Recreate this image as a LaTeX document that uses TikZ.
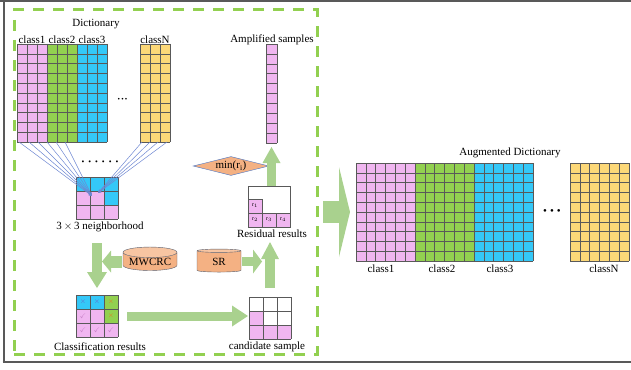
\documentclass[tikz,border=0pt]{standalone}
\usepackage{amssymb}
\usepackage{fontspec}
\setmainfont{Liberation Serif}
\usetikzlibrary{arrows.meta,shapes.geometric,calc}

\definecolor{pinkc}{RGB}{240,182,240}
\definecolor{greenc}{RGB}{146,208,80}
\definecolor{cyanc}{RGB}{52,200,248}
\definecolor{yellowc}{RGB}{252,216,120}
\definecolor{orangec}{RGB}{244,177,131}
\definecolor{arrowg}{RGB}{169,209,142}
\definecolor{dashg}{RGB}{146,208,80}
\definecolor{fanc}{RGB}{110,135,210}
\definecolor{cyledge}{RGB}{90,95,110}
\definecolor{crossb}{RGB}{100,100,200}
\definecolor{crosso}{RGB}{230,120,30}
\definecolor{tickp}{RGB}{200,130,200}

\tikzset{
  every node/.style={font=\fontsize{11}{13}\selectfont},
  lbl/.style={inner sep=1pt},
  area/.style={inner sep=0pt, outer sep=0pt},
  gridline/.style={draw=black!65, line width=0.5pt},
  framel/.style={draw=black!65, line width=2pt},
  fanline/.style={draw=fanc, line width=0.5pt, -{Stealth[length=3.5pt,width=3pt]}},
  fatarrow/.style={draw=arrowg, line cap=butt},
  cyl/.style={cylinder, shape border rotate=90, aspect=0.25, draw=cyledge,
    cylinder uses custom fill, cylinder body fill=orangec,
    cylinder end fill=orangec!75!white, minimum width=#1, minimum height=23pt,
    inner sep=0pt},
  minbox/.style={diamond, aspect=4, draw={rgb,255:red,68;green,114;blue,196},
    fill=orangec, inner sep=0.5pt, minimum width=68pt, minimum height=16pt},
  rlabel/.style={font=\fontsize{6}{6}\selectfont, inner sep=0pt},
  sym/.style={font=\fontsize{7}{7}\selectfont, inner sep=0pt, text=#1}
}

% block of equal cells: x, y, columns, rows, cell width, cell height, colour
\newcommand{\cellblock}[7]{%
  \fill[#7] (#1,#2) rectangle ++({#3*#5},{#4*#6});
  \foreach \cc in {0,...,#3} \draw[gridline] ({#1+\cc*#5},#2) -- ++(0,{#4*#6});
  \foreach \rr in {0,...,#4} \draw[gridline] (#1,{#2+\rr*#6}) -- ++({#3*#5},0);
}
% 3x3 patch, colours row by row
\newcommand{\patch}[3]{%
  \foreach \col [count=\k from 0] in {#3} {
    \pgfmathsetmacro\px{mod(\k,3)}
    \pgfmathsetmacro\py{floor(\k/3)}
    \fill[\col] ({#1+\px*14},{#2+\py*14}) rectangle ++(14,14);
  }
  \foreach \cc in {0,...,3} \draw[gridline] ({#1+\cc*14},#2) -- ++(0,42);
  \foreach \rr in {0,...,3} \draw[gridline] (#1,{#2+\rr*14}) -- ++(42,0);
}

\begin{document}
\begin{tikzpicture}[x=1pt,y=-1pt]
\useasboundingbox (0,0) rectangle (631,369);

% frame
\draw[framel] (0,1.5) -- (631,1.5);
\draw[framel] (3.5,0.5) -- (3.5,362);
\draw[framel] (2.5,362) -- (631,362);

% dashed stage box
\node[area, draw=dashg, line width=3pt, dash pattern=on 11pt off 9pt,
  minimum width=303pt, minimum height=344pt] (stage) at (165.5,182) {};

% dictionary
\cellblock{17}{44}{3}{10}{10}{9.8}{pinkc}
\cellblock{47}{44}{3}{10}{10}{9.8}{greenc}
\cellblock{77}{44}{3}{10}{10}{9.8}{cyanc}
\cellblock{140}{44}{3}{10}{10}{9.8}{yellowc}
\node[area, minimum width=153pt, minimum height=98pt] (dict) at (93.5,93) {};
\node[lbl] (dicttxt) at (96,24) {Dictionary};
\node[lbl] (d1) at (32,40) {class1};
\node[lbl] (d2) at (62,40) {class2};
\node[lbl] (d3) at (92,40) {class3};
\node[lbl] (dN) at (155,40) {classN};
\node[lbl, font=\fontsize{7}{7}\selectfont] (ddots) at (122.5,100)
  {\textbullet\hspace{1.2pt}\textbullet\hspace{1.2pt}\textbullet};

% neighbourhood patch
\patch{76}{177}{cyanc,cyanc,cyanc,pinkc,pinkc,cyanc,pinkc,pinkc,pinkc}
\node[area, minimum width=42pt, minimum height=42pt] (nbh) at (97,198) {};
\node[lbl] (nbhtxt) at (100,227) {3\,$\times$\,3 neighborhood};
\node[lbl, font=\fontsize{8}{8}\selectfont] (ndots) at (100,163)
  {\textbullet\hspace{4pt}\textbullet\hspace{4pt}\textbullet\hspace{4pt}\textbullet\hspace{4pt}\textbullet\hspace{4pt}\textbullet};
\coordinate (hitA) at (92,196);
\coordinate (hitB) at (98,193);
\foreach \x in {2,12,21,30,39,48}
  \draw[fanline] ([xshift=\x pt]dict.south west) -- (hitA);
\foreach \x in {125,133,141,150}
  \draw[fanline] ([xshift=\x pt]dict.south west) -- (hitB);

% classification results
\patch{76}{295}{cyanc,cyanc,greenc,pinkc,pinkc,greenc,pinkc,pinkc,pinkc}
\node[area, minimum width=42pt, minimum height=42pt] (cls) at (97,316) {};
\node[lbl] (clstxt) at (100,347) {Classification results};
\node[sym=crossb] at (83,302) {$\times$};
\node[sym=crossb] at (97,302) {$\times$};
\node[sym=crosso] at (111,302) {$\times$};
\node[sym=crosso] at (111,316) {$\times$};
\node[sym=tickp] at (83,316) {$\checkmark$};
\node[sym=tickp] at (83,330) {$\checkmark$};
\node[sym=tickp] at (97,330) {$\checkmark$};
\node[sym=tickp] at (111,330) {$\checkmark$};

% candidate sample
\patch{249}{297}{white,white,white,pinkc,white,white,pinkc,pinkc,pinkc}
\node[area, minimum width=42pt, minimum height=42pt] (cand) at (270,318) {};
\node[lbl] (candtxt) at (267,347) {candidate sample};

% residual results
\fill[pinkc] (248,199) rectangle (262,227);
\fill[pinkc] (262,213) rectangle (290,227);
\draw[gridline] (248,186) rectangle (290,227);
\draw[gridline] (248,199) -- (262,199) -- (262,227);
\draw[gridline] (248,213) -- (290,213);
\draw[gridline] (276,213) -- (276,227);
\node[area, minimum width=42pt, minimum height=41pt] (resid) at (269,206.5) {};
\node[rlabel] at (255,206) {r$_1$};
\node[rlabel] at (255,220) {r$_2$};
\node[rlabel] at (269,220) {r$_3$};
\node[rlabel] at (283,220) {r$_4$};
\node[lbl] (residtxt) at (272,234) {Residual results};

% amplified samples
\cellblock{266}{44}{1}{10}{11}{9.9}{pinkc}
\node[area, minimum width=11pt, minimum height=99pt] (ampl) at (271.5,93.5) {};
\node[lbl] (ampltxt) at (272,40) {Amplified samples};

\node[minbox] (minr) at (231,166) {min(r$_\mathrm{i}$)};
\node[cyl=54pt] (mwcrc) at (150,261.5) {MWCRC};
\node[cyl=44pt] (sr) at (219,261.5) {SR};

% augmented dictionary
\cellblock{356}{163}{6}{10}{9.83}{9.8}{pinkc}
\cellblock{415}{163}{6}{10}{9.83}{9.8}{greenc}
\cellblock{474}{163}{6}{10}{9.83}{9.8}{cyanc}
\cellblock{570}{163}{6}{10}{9.83}{9.8}{yellowc}
\node[area, minimum width=273pt, minimum height=98pt] (aug) at (492.5,212) {};
\node[lbl] (augtxt) at (510,153) {Augmented Dictionary};
\node[lbl] (a1) at (381,269) {class1};
\node[lbl] (a2) at (442,269) {class2};
\node[lbl] (a3) at (500,269) {class3};
\node[lbl] (aN) at (604,269) {classN};
\node[lbl] (adots) at (552,212)
  {\textbullet\hspace{3pt}\textbullet\hspace{3pt}\textbullet};

% flow arrows
\draw[fatarrow, line width=10pt, -{Triangle[width=20pt,length=16pt,line width=0pt]},
  shorten <=10pt, shorten >=7pt] (nbhtxt.south -| cls.north) -- (cls.north);
\draw[fatarrow, line width=12pt, -{Triangle[width=22pt,length=9pt,line width=0pt]},
  shorten <=1pt, shorten >=5pt] (mwcrc.west) -- (mwcrc.west -| cls.north);
\draw[fatarrow, line width=9pt, -{Triangle[width=21pt,length=16pt,line width=0pt]},
  shorten <=9pt, shorten >=1pt] (cls.east) -- (cls.east -| cand.west);
\draw[fatarrow, line width=10pt, -{Triangle[width=18pt,length=17pt,line width=0pt]},
  shorten <=9pt, shorten >=3pt] (cand.north) -- (cand.north |- residtxt.south);
\draw[fatarrow, line width=9pt, -{Triangle[width=24pt,length=9pt,line width=0pt]},
  shorten <=1pt, shorten >=8pt] (sr.east) -- (sr.east -| cand.north);
\draw[fatarrow, line width=9pt, -{Triangle[width=18pt,length=16pt,line width=0pt]},
  shorten >=4pt] (resid.north -| ampl.south) -- (ampl.south);
\draw[fatarrow, line width=22pt, -{Triangle[width=90pt,length=11pt,line width=0pt]},
  shorten <=6pt, shorten >=6pt] (stage.east |- aug.west) -- (aug.west);
\end{tikzpicture}
\end{document}
